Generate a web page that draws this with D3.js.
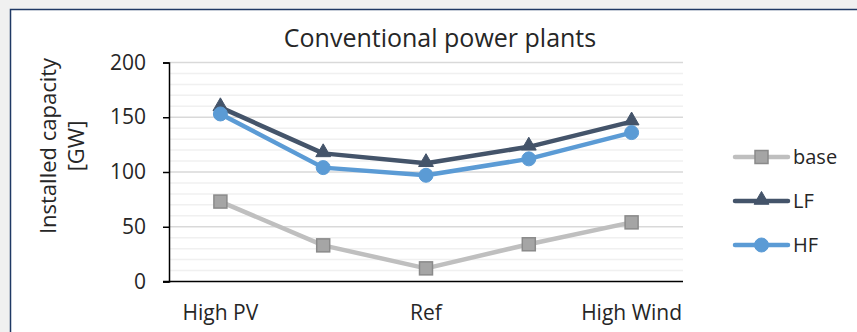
<!DOCTYPE html>
<html>
<head>
<meta charset="utf-8">
<script src="https://cdn.jsdelivr.net/npm/d3@7"></script>
<style>
  html, body { margin: 0; padding: 0; background: #f0f0f0; }
  svg { display: block; }
  text { font-family: "Open Sans", "Noto Sans", sans-serif; fill: #262626; }
</style>
</head>
<body>
<svg id="chart" width="857" height="332"></svg>
<script>
// Scenario categories (only every other label is printed on the axis)
const categories = ["High PV", "PV+", "Ref", "Wind+", "High Wind"];
const tickLabels = ["High PV", "", "Ref", "", "High Wind"];

// Installed conventional capacity per scenario, GW
const baseValues = [73, 33, 12, 34, 54];
const lfValues   = [159, 117, 108, 123, 146];
const hfValues   = [153, 104, 97, 112, 136];

const yTicks = [0, 50, 100, 150, 200];
const seriesNames = ["base", "LF", "HF"];

const series = [
  { name: seriesNames[0], values: baseValues, color: "#bfbfbf", marker: "square" },
  { name: seriesNames[1], values: lfValues,   color: "#44546a", marker: "triangle" },
  { name: seriesNames[2], values: hfValues,   color: "#5b9bd5", marker: "circle" }
];

const svg = d3.select("#chart");

// chart frame
svg.append("rect")
  .attr("x", 10.5).attr("y", 9.5)
  .attr("width", 860).attr("height", 340)
  .attr("fill", "#ffffff")
  .attr("stroke", "#1f3864").attr("stroke-width", 1.5);

const plot = { left: 169, right: 683, top: 62.5, bottom: 281.5 };

const x = d3.scaleBand().domain(categories).range([plot.left, plot.right]);
const y = d3.scaleLinear().domain([0, 200]).range([plot.bottom, plot.top]);

// minor gridlines every 10
svg.append("g").selectAll("line")
  .data(d3.range(10, 200, 10).filter(v => v % 50 !== 0))
  .join("line")
  .attr("x1", plot.left).attr("x2", plot.right)
  .attr("y1", d => y(d)).attr("y2", d => y(d))
  .attr("stroke", "#f0f0f0").attr("stroke-width", 1.5);

// major gridlines
svg.append("g").selectAll("line")
  .data(yTicks.filter(v => v > 0))
  .join("line")
  .attr("x1", plot.left).attr("x2", plot.right)
  .attr("y1", d => y(d)).attr("y2", d => y(d))
  .attr("stroke", "#d9d9d9").attr("stroke-width", 1.5);

// y axis
const yAxis = svg.append("g")
  .attr("transform", `translate(${plot.left},0)`)
  .call(d3.axisLeft(y).tickValues(yTicks).tickSize(6).tickPadding(17));
yAxis.select(".domain").attr("stroke", "#000").attr("stroke-width", 1.5);
yAxis.selectAll(".tick line").attr("stroke", "#000").attr("stroke-width", 1.5);
yAxis.selectAll(".tick text")
  .style("font-family", "'Open Sans', sans-serif")
  .style("font-size", "21px").attr("fill", "#262626");

// x axis
const xAxis = svg.append("g")
  .attr("transform", `translate(0,${plot.bottom})`)
  .call(d3.axisBottom(x).tickSize(0).tickPadding(0)
    .tickFormat((d, i) => tickLabels[i]));
xAxis.select(".domain").attr("stroke", "#000").attr("stroke-width", 1.5)
  .attr("d", `M${plot.left - 6},0H${plot.right}`);
xAxis.selectAll(".tick text")
  .style("font-family", "'Open Sans', sans-serif")
  .style("font-size", "21px").attr("fill", "#262626")
  .attr("y", 38.5).attr("dy", "0");

// title
svg.append("text")
  .attr("x", 440).attr("y", 47)
  .attr("text-anchor", "middle")
  .style("font-size", "25px").attr("fill", "#000")
  .text("Conventional power plants");

// y axis title (two lines)
const yTitle = svg.append("text")
  .attr("transform", "translate(0,146) rotate(-90)")
  .attr("text-anchor", "middle")
  .style("font-size", "22px").attr("fill", "#262626");
yTitle.append("tspan").attr("x", 0).attr("y", 56).text("Installed capacity");
yTitle.append("tspan").attr("x", 0).attr("y", 84).text("[GW]");

const cx = c => x(c) + x.bandwidth() / 2;
const line = d3.line().x((d, i) => cx(categories[i])).y(d => y(d));

function drawMarker(g, type, px, py, color) {
  if (type === "square") {
    g.append("rect")
      .attr("x", px - 6.5).attr("y", py - 6.5)
      .attr("width", 13).attr("height", 13)
      .attr("fill", "#a5a5a5").attr("stroke", "#8a8a8a").attr("stroke-width", 1.5);
  } else if (type === "triangle") {
    g.append("path")
      .attr("d", d3.symbol().type(d3.symbolTriangle).size(95)())
      .attr("transform", `translate(${px},${py - 1})`)
      .attr("fill", color).attr("stroke", color).attr("stroke-width", 1);
  } else {
    g.append("circle")
      .attr("cx", px).attr("cy", py).attr("r", 7)
      .attr("fill", color).attr("stroke", color).attr("stroke-width", 1);
  }
}

series.forEach(s => {
  const g = svg.append("g");
  g.append("path")
    .datum(s.values)
    .attr("d", line)
    .attr("fill", "none")
    .attr("stroke", s.color)
    .attr("stroke-width", 4.5)
    .attr("stroke-linejoin", "round")
    .attr("stroke-linecap", "round");
  s.values.forEach((v, i) => drawMarker(g, s.marker, cx(categories[i]), y(v), s.color));
});

// legend
const legendY = [157, 201, 245];
series.forEach((s, i) => {
  const g = svg.append("g");
  g.append("line")
    .attr("x1", 735).attr("x2", 788)
    .attr("y1", legendY[i]).attr("y2", legendY[i])
    .attr("stroke", s.color).attr("stroke-width", 4.5)
    .attr("stroke-linecap", "round");
  drawMarker(g, s.marker, 761.5, legendY[i], s.color);
  g.append("text")
    .attr("x", 793).attr("y", legendY[i])
    .attr("dy", "0.35em")
    .style("font-size", "20px").attr("fill", "#262626")
    .text(s.name);
});
</script>
</body>
</html>
